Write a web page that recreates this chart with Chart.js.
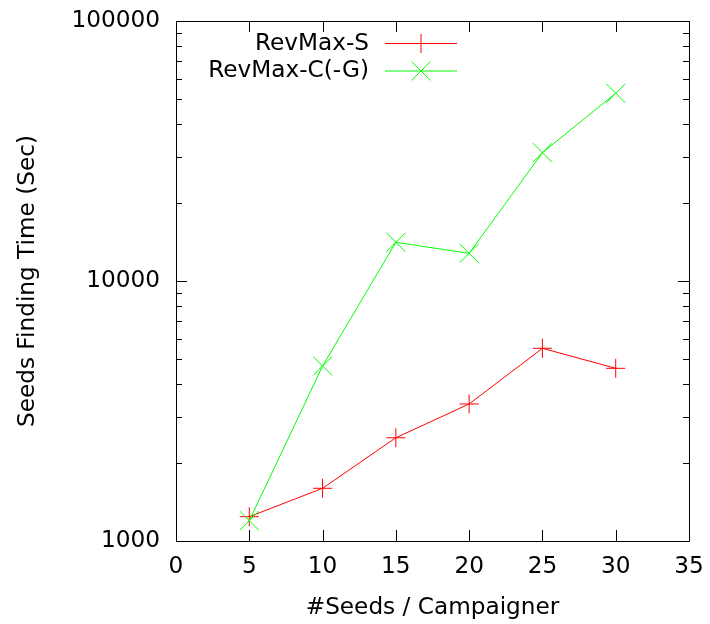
<!DOCTYPE html>
<html>
<head>
<meta charset="utf-8">
<script src="https://cdn.jsdelivr.net/npm/chart.js@4/dist/chart.umd.min.js"></script>
<style>
  body { margin: 0; background: #fff; }
</style>
</head>
<body>
<canvas id="chart" width="710" height="624"></canvas>
<script>
var seeds = [5, 10, 15, 20, 25, 30];
var revmaxS = [1240, 1595, 2495, 3365, 5510, 4615];
var revmaxCG = [1197, 4710, 14090, 12780, 31150, 52720];
var yTicks = [1000, 10000, 100000];
var xTicks = [0, 5, 10, 15, 20, 25, 30, 35];

var FONT = { family: 'DejaVu Sans', size: 23.2 };

function toPoints(xs, ys) {
  return xs.map(function(x, i) { return { x: x, y: ys[i] }; });
}

// gnuplot style border with inward ticks, plus its legend
var gnuplotFrame = {
  id: 'gnuplotFrame',
  afterDatasetsDraw: function(chart) {
    var ctx = chart.ctx;
    var a = chart.chartArea;
    var xs = chart.scales.x, ys = chart.scales.y;
    ctx.save();
    ctx.strokeStyle = '#000';
    ctx.lineWidth = 1;
    ctx.beginPath();
    ctx.rect(Math.round(a.left) + 0.5, Math.round(a.top) + 0.5,
      Math.round(a.right - a.left), Math.round(a.bottom - a.top));
    ctx.stroke();

    ctx.beginPath();
    xTicks.forEach(function(v) {
      var px = Math.round(xs.getPixelForValue(v)) + 0.5;
      ctx.moveTo(px, a.bottom); ctx.lineTo(px, a.bottom - 11);
      ctx.moveTo(px, a.top); ctx.lineTo(px, a.top + 11);
    });
    for (var dec = 1000; dec <= 100000; dec *= 10) {
      for (var m = 1; m < 10; m++) {
        var v = dec * m;
        if (v > 100000) break;
        var len = m === 1 ? 11 : 6;
        var py = Math.round(ys.getPixelForValue(v)) + 0.5;
        ctx.moveTo(a.left, py); ctx.lineTo(a.left + len, py);
        ctx.moveTo(a.right, py); ctx.lineTo(a.right - len, py);
      }
    }
    ctx.stroke();

    // legend
    ctx.font = FONT.size + 'px ' + FONT.family;
    ctx.textAlign = 'right';
    ctx.textBaseline = 'middle';
    chart.data.datasets.forEach(function(ds, i) {
      var y = 43.5 + i * 27.5;
      ctx.fillStyle = '#000';
      ctx.fillText(ds.label, 369, y);
      ctx.strokeStyle = ds.borderColor;
      ctx.lineWidth = 1;
      ctx.beginPath();
      ctx.moveTo(385, y); ctx.lineTo(457, y);
      var cx = 421;
      if (ds.pointStyle === 'cross') {
        var r = ds.pointRadius;
        ctx.moveTo(cx - r, y); ctx.lineTo(cx + r, y);
        ctx.moveTo(cx, y - r); ctx.lineTo(cx, y + r);
      } else {
        var d = ds.pointRadius * Math.SQRT1_2;
        ctx.moveTo(cx - d, y - d); ctx.lineTo(cx + d, y + d);
        ctx.moveTo(cx - d, y + d); ctx.lineTo(cx + d, y - d);
      }
      ctx.stroke();
    });
    ctx.restore();
  }
};

var config = {
  type: 'line',
  data: {
    datasets: [{
      label: 'RevMax-S',
      data: toPoints(seeds, revmaxS),
      borderColor: '#ff0000',
      backgroundColor: '#ff0000',
      pointBorderColor: '#ff0000',
      pointBackgroundColor: '#ff0000',
      borderWidth: 1,
      pointStyle: 'cross',
      pointRadius: 9.5,
      pointBorderWidth: 1,
      order: 1
    }, {
      label: 'RevMax-C(-G)',
      data: toPoints(seeds, revmaxCG),
      borderColor: '#00ff00',
      backgroundColor: '#00ff00',
      pointBorderColor: '#00ff00',
      pointBackgroundColor: '#00ff00',
      borderWidth: 1,
      pointStyle: 'crossRot',
      pointRadius: 13.4,
      pointBorderWidth: 1,
      order: 0
    }]
  },
  options: {
    responsive: false,
    animation: false,
    events: [],
    layout: { padding: { top: 21, right: 21, left: 0, bottom: 0 } },
    plugins: {
      legend: { display: false },
      tooltip: { enabled: false }
    },
    scales: {
      x: {
        type: 'linear',
        min: 0,
        max: 35,
        afterBuildTicks: function(scale) {
          scale.ticks = xTicks.map(function(v) { return { value: v }; });
        },
        afterFit: function(scale) {
          scale.height = 83;
          scale.paddingLeft = 0;
          scale.paddingRight = 0;
        },
        ticks: { font: FONT, color: '#000', padding: 12, maxRotation: 0 },
        grid: { display: false, drawTicks: false },
        border: { display: false },
        title: {
          display: true,
          text: '#Seeds / Campaigner',
          font: FONT,
          color: '#000',
          padding: { bottom: 2 }
        }
      },
      y: {
        type: 'logarithmic',
        min: 1000,
        max: 100000,
        afterBuildTicks: function(scale) {
          scale.ticks = yTicks.map(function(v) { return { value: v }; });
        },
        afterFit: function(scale) {
          scale.width = 176;
          scale.paddingTop = 0;
          scale.paddingBottom = 0;
        },
        ticks: {
          font: FONT,
          color: '#000',
          padding: 16,
          callback: function(v) { return String(v); }
        },
        grid: { display: false, drawTicks: false },
        border: { display: false },
        title: {
          display: true,
          text: 'Seeds Finding Time (Sec)',
          font: FONT,
          color: '#000',
          padding: { top: 14 }
        }
      }
    }
  },
  plugins: [gnuplotFrame]
};

window.onload = function() {
  var ctx = document.getElementById('chart').getContext('2d');
  window.myChart = new Chart(ctx, config);
};
</script>
</body>
</html>
